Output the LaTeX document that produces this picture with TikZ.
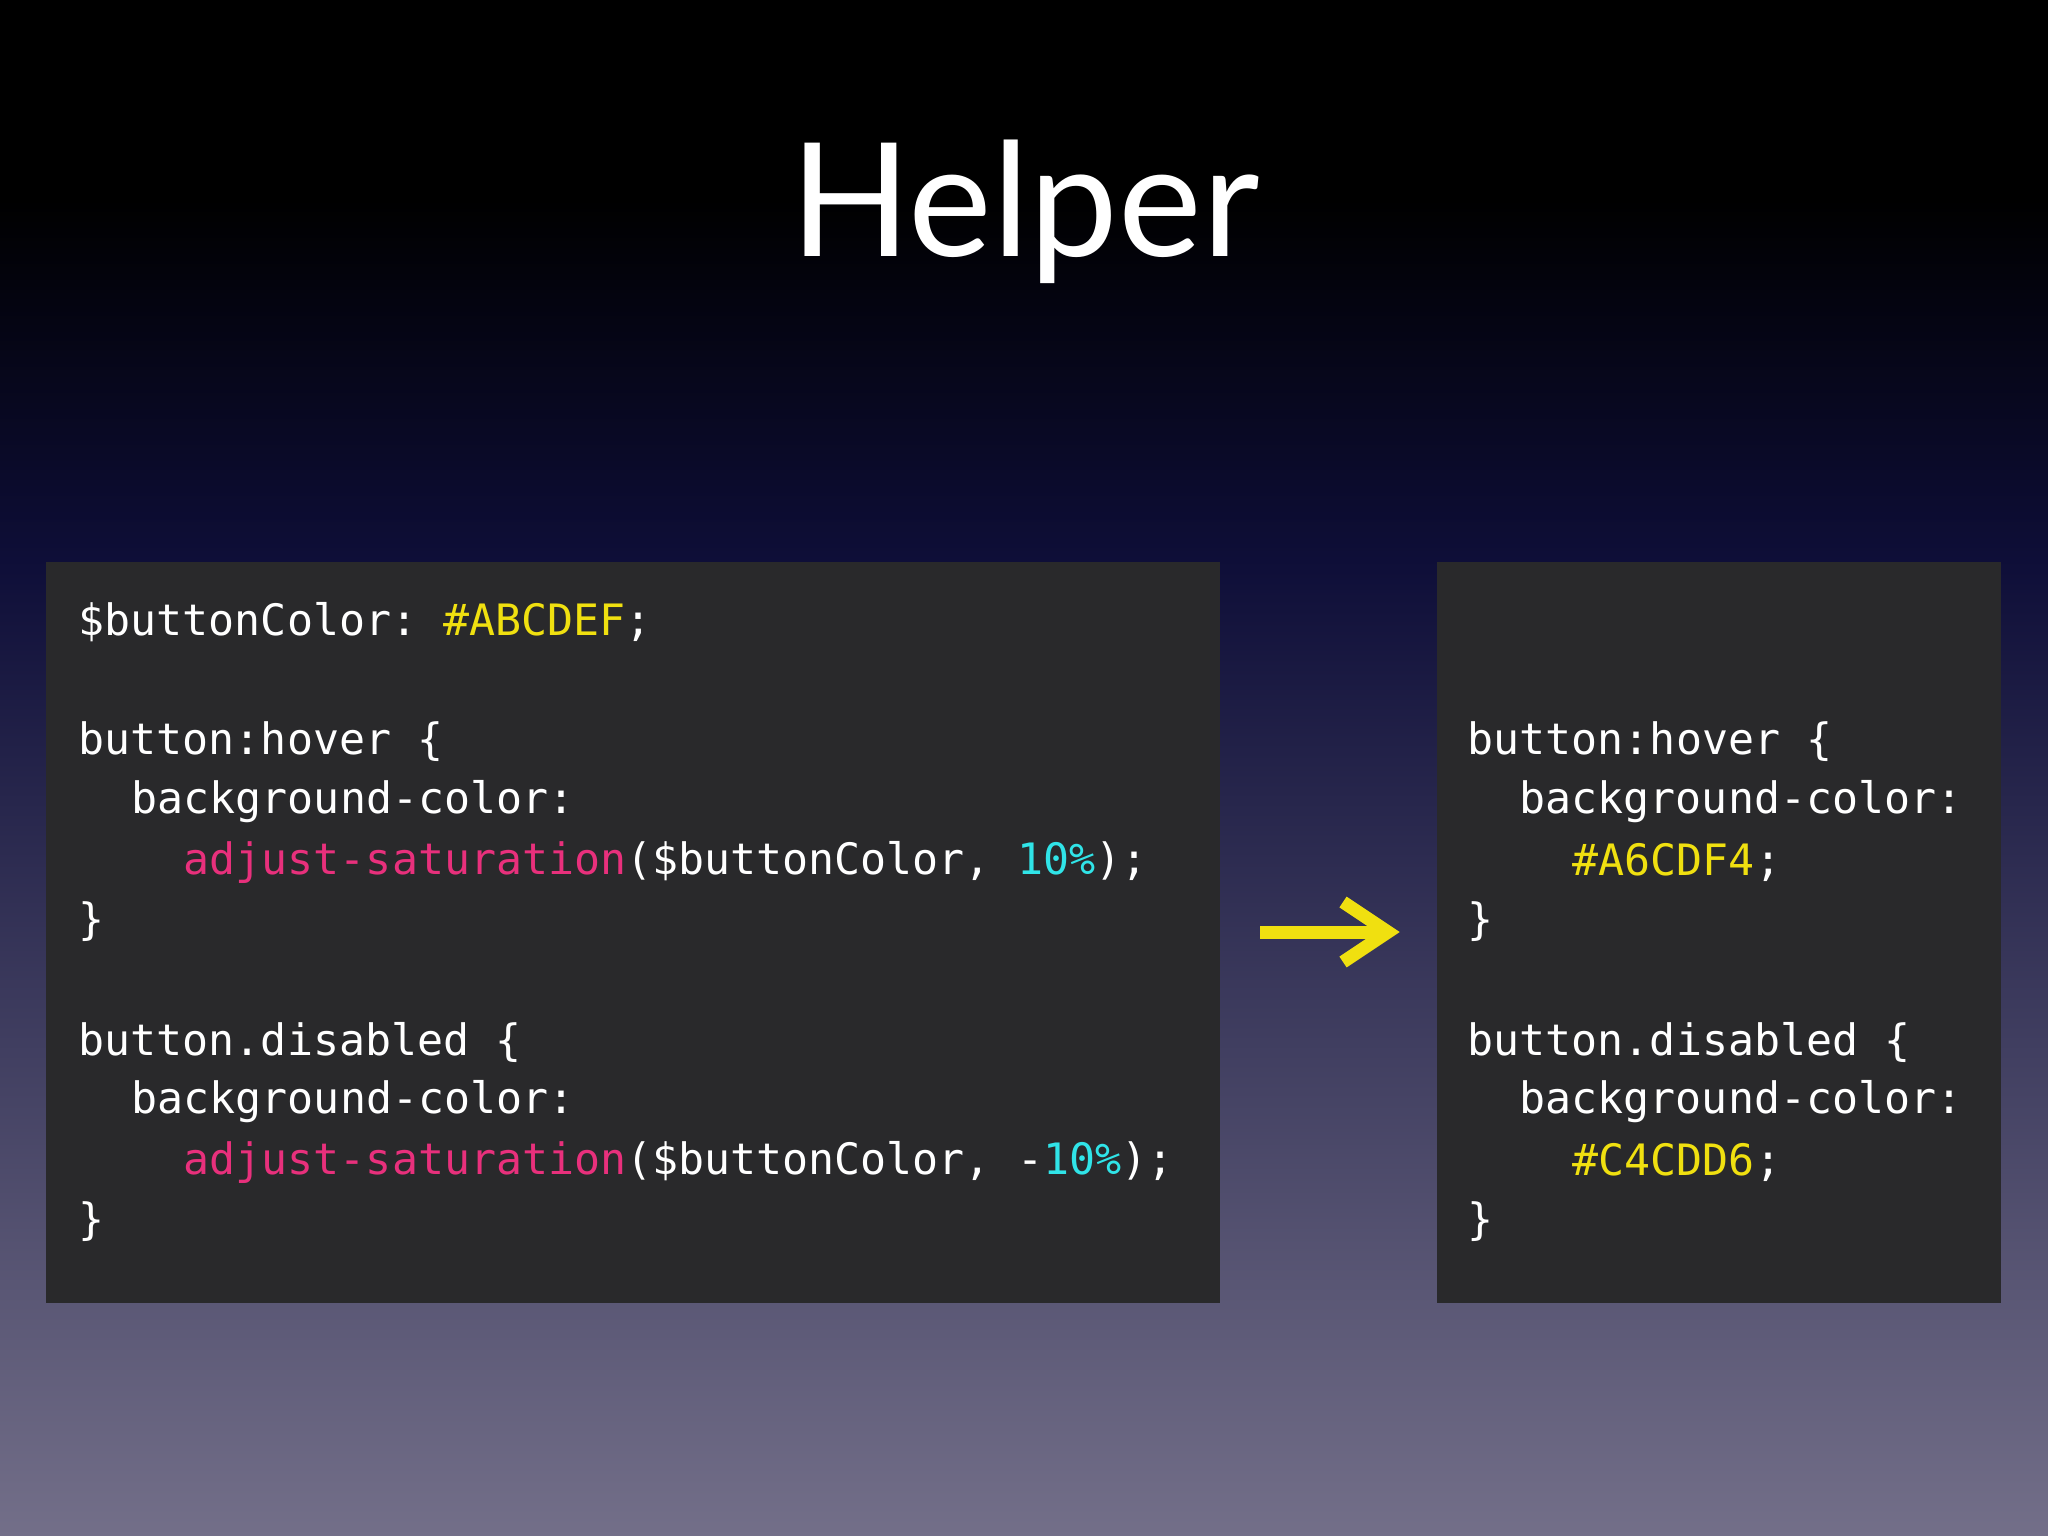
\documentclass[tikz,border=0pt]{standalone}
\usepackage{fontspec}
\setmainfont{Lato}
\setmonofont{DejaVu Sans Mono}
\definecolor{boxc}{HTML}{29292B}
\definecolor{pinkc}{HTML}{E8307C}
\definecolor{cyanc}{HTML}{30E4E8}
\definecolor{yelc}{HTML}{F0E010}
\definecolor{navy}{HTML}{0E0E38}
\definecolor{botc}{HTML}{736F89}
\tikzset{code/.style={anchor=west,text=white,font=\ttfamily\fontsize{12.3pt}{14pt}\selectfont,inner sep=0pt}}
\begin{document}
\begin{tikzpicture}[x=0.01cm,y=-0.01cm]
\useasboundingbox (0,0) rectangle (2048,1536);
\fill[black] (0,0) rectangle (2048,200);
\shade[top color=black,bottom color=navy] (0,199) rectangle (2048,560);
\shade[top color=navy,bottom color=botc] (0,559) rectangle (2048,1536);
\node[text=white,font=\fontsize{45pt}{50pt}\selectfont] (title) at (1025,212) {Helper};
\fill[boxc] (46,562) rectangle (1220,1303);
\fill[boxc] (1437,562) rectangle (2001,1303);
\node[code] (l1) at (78,622) {\$buttonColor: \textcolor{yelc}{\#ABCDEF};};
\node[code] (l2) at (78,742) {button:hover \{};
\node[code] (l3) at (131,802) {background-color:};
\node[code] (l4) at (183,862) {\textcolor{pinkc}{adjust-saturation}(\$buttonColor, \textcolor{cyanc}{10\%});};
\node[code] (l5) at (78,922) {\}};
\node[code] (l6) at (78,1042) {button.disabled \{};
\node[code] (l7) at (131,1102) {background-color:};
\node[code] (l8) at (183,1162) {\textcolor{pinkc}{adjust-saturation}(\$buttonColor, -\textcolor{cyanc}{10\%});};
\node[code] (l9) at (78,1222) {\}};
\node[code] (r2) at (1467,742) {button:hover \{};
\node[code] (r3) at (1519,802) {background-color:};
\node[code] (r4) at (1572,862) {\textcolor{yelc}{\#A6CDF4};};
\node[code] (r5) at (1467,922) {\}};
\node[code] (r6) at (1467,1042) {button.disabled \{};
\node[code] (r7) at (1519,1102) {background-color:};
\node[code] (r8) at (1572,1162) {\textcolor{yelc}{\#C4CDD6};};
\node[code] (r9) at (1467,1222) {\}};
\coordinate (a1) at (1260,932);
\coordinate (a2) at (1388,932);
\draw[yelc,line width=1.3mm] (a1) -- (a2);
\draw[yelc,line width=1.3mm,line join=miter] (1343,902) -- (a2) -- (1343,962);
\end{tikzpicture}
\end{document}
